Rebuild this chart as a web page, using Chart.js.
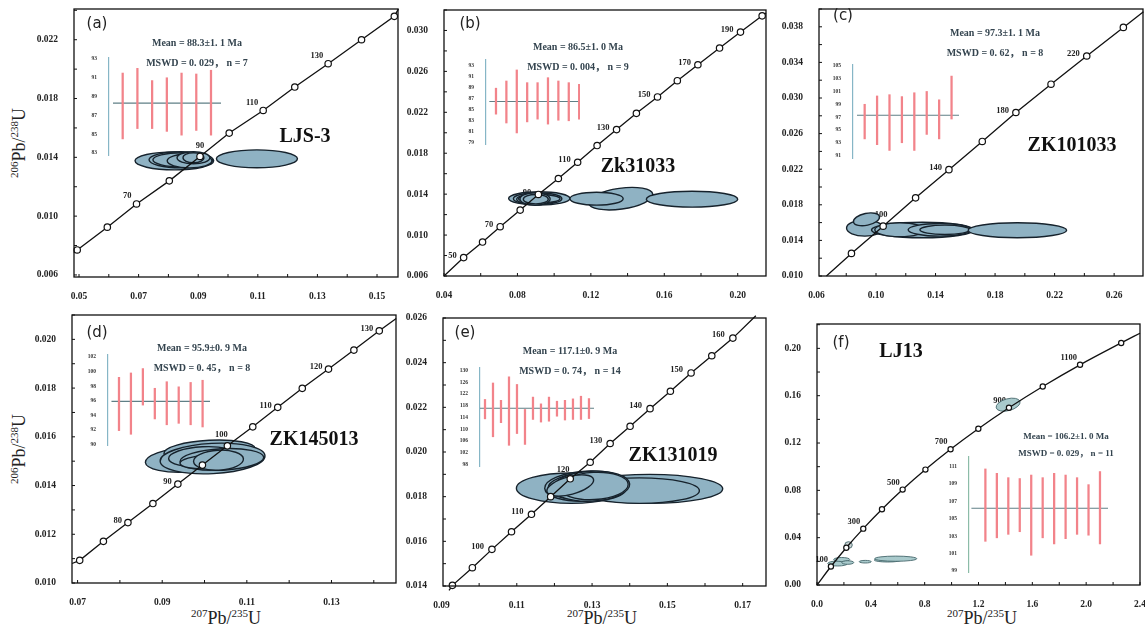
<!DOCTYPE html>
<html>
<head>
<meta charset="utf-8">
<script src="https://cdn.jsdelivr.net/npm/chart.js@4.4.1/dist/chart.umd.min.js"></script>
<style>
body{margin:0;background:#fff;width:1145px;height:632px;overflow:hidden;position:relative;font-family:"Liberation Serif",serif}
canvas{position:absolute}
.ttl{position:absolute;font-size:18px;color:#222;white-space:nowrap;line-height:1}
.ttl sup{font-size:11px}
.rot{transform:translate(-50%,-50%) rotate(-90deg)}
.hor{transform:translate(-50%,-50%)}
</style>
</head>
<body>
<div class="ttl rot" style="left:18px;top:143px"><sup>206</sup>Pb/<sup>238</sup>U</div>
<div class="ttl rot" style="left:18px;top:449px"><sup>206</sup>Pb/<sup>238</sup>U</div>
<div class="ttl hor" style="left:226px;top:617px"><sup>207</sup>Pb/<sup>235</sup>U</div>
<div class="ttl hor" style="left:602px;top:617px"><sup>207</sup>Pb/<sup>235</sup>U</div>
<div class="ttl hor" style="left:982px;top:617px"><sup>207</sup>Pb/<sup>235</sup>U</div>
<script>
// ---- (a) LJS-3 ----
const aAge=[50,60,70,80,90,100,110,120,130,140,150];
const aX=[0.0494,0.0595,0.0693,0.0803,0.0906,0.1004,0.1118,0.1224,0.1336,0.1448,0.1558];
const aY=[0.0077,0.00925,0.01083,0.0124,0.01406,0.01565,0.01719,0.01878,0.02037,0.0220,0.02359];
const aEnd=[[0.0483,0.0075],[0.1572,0.0241]];
const aTag=[70,90,110,130];
const aEx=[0.0820,0.0842,0.0844,0.0871,0.0884,0.0884,0.1097];
const aEy=[0.01376,0.01383,0.01383,0.01376,0.01397,0.01397,0.0139];
const aErx=[0.0132,0.0107,0.0096,0.0075,0.0055,0.0035,0.0136];
const aEry=[0.00061,0.00055,0.00048,0.00048,0.00041,0.00034,0.00061];
const aLo=[84.5,85.6,85.6,85.3,84.9,85.4,84.9];
const aHi=[91.5,92.0,90.7,91.0,91.5,91.4,91.8];
const aMean=88.3;
const aXT=[0.05,0.07,0.09,0.11,0.13,0.15];
const aYT=[0.006,0.010,0.014,0.018,0.022];
const aIT=[83,85,87,89,91,93];

// ---- (b) Zk31033 ----
const bAge=[50,60,70,80,90,100,110,120,130,140,150,160,170,180,190,200];
const bX=[0.0507,0.0610,0.0706,0.0815,0.0914,0.1023,0.1128,0.1234,0.1340,0.1448,0.1563,0.1671,0.1783,0.1901,0.2015,0.2133];
const bY=[0.0078,0.00932,0.01082,0.01244,0.01397,0.01553,0.01712,0.01875,0.02031,0.0219,0.0235,0.02509,0.02665,0.02828,0.02984,0.03143];
const bEnd=[[0.040,0.0060],[0.2154,0.0317]];
const bTag=[50,70,90,110,130,150,170,190];
const bEx=[0.0919,0.0910,0.0905,0.0919,0.0896,0.0900,0.1362,0.1231,0.1751];
const bEy=[0.01358,0.01356,0.01351,0.01356,0.01353,0.01351,0.01356,0.01356,0.01351];
const bErx=[0.0167,0.0132,0.0109,0.0113,0.0082,0.0068,0.0177,0.0145,0.0249];
const bEry=[0.00065,0.00057,0.00052,0.00041,0.00061,0.00046,0.00102,0.00063,0.00078];
const bEa=[0,0,0,0,0,0,-8,0,0];
const bLo=[84.2,82.6,80.8,82.8,83.3,82.4,83.1,83.0,83.3];
const bHi=[88.9,90.2,92.2,89.9,89.9,90.8,90.2,89.9,89.6];
const bMean=86.5;
const bXT=[0.04,0.08,0.12,0.16,0.20];
const bYT=[0.006,0.010,0.014,0.018,0.022,0.026,0.030];
const bIT=[79,81,83,85,87,89,91,93];

// ---- (c) ZK101033 ----
const cAge=[80,100,120,140,160,180,200,220,240];
const cX=[0.0835,0.1048,0.1266,0.1490,0.1714,0.1940,0.2176,0.2416,0.2662];
const cY=[0.01254,0.0156,0.01878,0.02195,0.02512,0.02837,0.03155,0.03472,0.03793];
const cEnd=[[0.0667,0.0100],[0.2797,0.0397]];
const cTag=[100,140,180,220];
const cEx=[0.0925,0.0936,0.1312,0.1160,0.1429,0.1463,0.1950];
const cEy=[0.01538,0.01637,0.01517,0.0152,0.01519,0.01519,0.01514];
const cErx=[0.0123,0.0089,0.0342,0.0168,0.0213,0.0168,0.0331];
const cEry=[0.0009,0.00067,0.00087,0.00078,0.00071,0.00053,0.00084];
const cEa=[0,-12,0,0,0,0,0];
const cLo=[93.6,92.7,91.8,93.0,91.8,94.3,93.6,96.7];
const cHi=[99.0,100.3,100.5,100.2,100.8,101.0,99.7,103.4];
const cMean=97.3;
const cXT=[0.06,0.10,0.14,0.18,0.22,0.26];
const cYT=[0.010,0.014,0.018,0.022,0.026,0.030,0.034,0.038];
const cIT=[91,93,95,97,99,101,103,105];

// ---- (d) ZK145013 ----
const dAge=[70,75,80,85,90,95,100,105,110,115,120,125,130];
const dX=[0.0705,0.0761,0.0819,0.0878,0.0937,0.0995,0.1054,0.1114,0.1173,0.1231,0.1293,0.1353,0.1413];
const dY=[0.01093,0.01171,0.01248,0.01326,0.01406,0.01484,0.01563,0.01641,0.01721,0.01799,0.01878,0.01956,0.02035];
const dEnd=[[0.0687,0.0108],[0.1453,0.02086]];
const dTag=[80,90,100,110,120,130];
const dEx=[0.0962,0.1012,0.1019,0.0996,0.1041,0.1009,0.1033];
const dEy=[0.01507,0.01542,0.01511,0.01518,0.01507,0.01497,0.01504];
const dErx=[0.0102,0.0108,0.0124,0.0081,0.0099,0.0067,0.0059];
const dEry=[0.00051,0.00044,0.00062,0.00041,0.00044,0.00028,0.00041];
const dEa=[-4,-3,-3,-3,-3,-3,-3];
const dLo=[91.9,91.4,95.4,93.5,92.7,92.9,92.7,92.4];
const dHi=[99.2,99.8,100.4,97.7,98.6,97.9,98.5,98.8];
const dMean=95.9;
const dXT=[0.07,0.09,0.11,0.13];
const dYT=[0.010,0.012,0.014,0.016,0.018,0.020];
const dIT=[90,92,94,96,98,100,102];

// ---- (e) ZK131019 ----
const eAge=[90,95,100,105,110,115,120,125,130,135,140,145,150,155,160];
const eX=[0.0929,0.0982,0.1034,0.1086,0.1139,0.1190,0.1242,0.1295,0.1348,0.1401,0.1454,0.1508,0.1563,0.1618,0.1674];
const eY=[0.01403,0.01482,0.01564,0.01643,0.01721,0.0180,0.0188,0.01954,0.02038,0.02115,0.02194,0.02272,0.02354,0.02431,0.0251];
const eEnd=[[0.0920,0.0138],[0.1735,0.0261]];
const eTag=[100,110,120,130,140,150,160];
const eEx=[0.1453,0.1426,0.1245,0.1285,0.1285,0.1298,0.1305,0.1242];
const eEy=[0.01835,0.01827,0.01838,0.01847,0.01847,0.01847,0.01848,0.0185];
const eErx=[0.0194,0.0159,0.0146,0.0111,0.0102,0.0102,0.0091,0.0064];
const eEry=[0.00065,0.00057,0.00068,0.00067,0.0006,0.00067,0.00061,0.0004];
const eEa=[0,0,0,-3,-3,-3,-3,-15];
const eLo=[113.5,107.4,112.2,104.5,108.5,104.8,113.3,112.4,112.7,114.4,113.1,113.3,113.3,113.6];
const eHi=[120.1,125.7,119.8,127.8,125.2,116.7,120.9,118.6,120.9,119.5,119.8,120.3,121.2,120.4];
const eMean=117.1;
const eXT=[0.09,0.11,0.13,0.15,0.17];
const eYT=[0.014,0.016,0.018,0.020,0.022,0.024,0.026];
const eIT=[98,102,106,110,114,118,122,126,130];

// ---- (f) LJ13 ----
const fAge=[100,200,300,400,500,600,700,800,900,1000,1100,1200];
const fX=[0.1035,0.2177,0.3437,0.4828,0.6363,0.8056,0.9925,1.1987,1.4263,1.6774,1.9545,2.2603];
const fY=[0.01563,0.03151,0.04764,0.06402,0.08065,0.09754,0.1147,0.1321,0.1498,0.1678,0.1861,0.2046];
const fEnd=[[0,0],[2.4,0.2128]];
const fTag=[100,300,500,700,900,1100];
const fEx=[0.2342,0.1539,0.1836,0.2283,0.3584,0.5257,0.5851,1.420];
const fEy=[0.0338,0.01817,0.02156,0.0190,0.0197,0.02113,0.02223,0.1524];
const fErx=[0.028,0.0743,0.0595,0.0446,0.0446,0.1004,0.156,0.0915];
const fEry=[0.0028,0.0021,0.0017,0.0015,0.0011,0.0017,0.0022,0.0050];
const fEa=[0,0,0,0,0,0,0,-15];
const fLo=[102.4,102.8,103.2,103.5,100.8,102.8,102.1,102.7,103.2,103.1,102.1];
const fHi=[110.7,110.2,109.7,109.6,110.0,109.7,110.2,110.0,109.7,108.9,110.4];
const fMean=106.2;
const fXT=[0,0.4,0.8,1.2,1.6,2.0,2.4];
const fYT=[0,0.04,0.08,0.12,0.16,0.20];
const fIT=[99,101,103,105,107,109,111];

const FS='"Liberation Serif","Noto Sans CJK SC",serif';
const FILL='#8fb2c3', EDGE='#16222c';

const panels=[
 {k:'(a)',box:[74,9,398,277],xr:[0.04832,0.15704],yr:[0.00586,0.02409],xd:2,yd:3,
  age:aAge,x:aX,y:aY,end:aEnd,tag:aTag,ex:aEx,ey:aEy,erx:aErx,ery:aEry,ea:null,xt:aXT,yt:aYT,
  name:'LJS-3',mean:'Mean = 88.3±1. 1 Ma',mswd:'MSWD = 0. 029， n = 7',
  pl:[23,15],pm:[123,34],pn:[231,128],to:[-5,-8],up:[90],uo:[0,-11],pr:3.2,
  ins:{box:[109,58.3,220.7,155],x:[0.07,7.68],ms:0.34,y:[82.79,93.1],t:aIT,lo:aLo,hi:aHi,m:aMean,ac:'#86b6c6'}},
 {k:'(b)',box:[444.3,10,766.7,276],xr:[0.04,0.2154],yr:[0.006,0.032],xd:2,yd:3,
  age:bAge,x:bX,y:bY,end:bEnd,tag:bTag,ex:bEx,ey:bEy,erx:bErx,ery:bEry,ea:bEa,xt:bXT,yt:bYT,
  name:'Zk31033',mean:'Mean = 86.5±1. 0 Ma',mswd:'MSWD = 0. 004， n = 9',
  pl:[26,14],pm:[134,37],pn:[194,157],to:[-7,-2],up:[],uo:[0,0],pr:3.2,
  ins:{box:[486,60,580,144],x:[0.04,9.08],ms:0.36,y:[78.8,94],t:bIT,lo:bLo,hi:bHi,m:bMean,ac:'#86b6c6'}},
 {k:'(c)',box:[819.3,9.3,1143,276],xr:[0.0617,0.2794],yr:[0.010,0.040],xd:2,yd:3,
  age:cAge,x:cX,y:cY,end:cEnd,tag:cTag,ex:cEx,ey:cEy,erx:cErx,ery:cEry,ea:cEa,xt:cXT,yt:cYT,
  name:'ZK101033',mean:'Mean = 97.3±1. 1 Ma',mswd:'MSWD = 0. 62， n = 8',
  pl:[24,7],pm:[176,24],pn:[253,137],to:[-7,-2],up:[100],uo:[-2,-11],pr:3.2,
  ins:{box:[853.3,65,959.3,158.3],x:[0.06,8.6],ms:0.38,y:[90.62,105.13],t:cIT,lo:cLo,hi:cHi,m:cMean,ac:'#86b6c6'}},
 {k:'(d)',box:[71.7,315,396,582.7],xr:[0.06868,0.14525],yr:[0.010,0.0210],xd:2,yd:3,
  age:dAge,x:dX,y:dY,end:dEnd,tag:dTag,ex:dEx,ey:dEy,erx:dErx,ery:dEry,ea:dEa,xt:dXT,yt:dYT,
  name:'ZK145013',mean:'Mean = 95.9±0. 9 Ma',mswd:'MSWD = 0. 45， n = 8',
  pl:[25,18],pm:[130,33],pn:[242,125],to:[-6,-2],up:[100],uo:[-6,-11],pr:3.2,
  ins:{box:[108.3,355,210,445],x:[0.08,8.62],ms:0.37,y:[89.93,102.26],t:dIT,lo:dLo,hi:dHi,m:dMean,ac:'#86b6c6'}},
 {k:'(e)',box:[443.3,318.3,766.7,586.7],xr:[0.0904,0.1762],yr:[0.014,0.026],xd:2,yd:3,
  age:eAge,x:eX,y:eY,end:eEnd,tag:eTag,ex:eEx,ey:eEy,erx:eErx,ery:eEry,ea:eEa,xt:eXT,yt:eYT,
  name:'ZK131019',mean:'Mean = 117.1±0. 9 Ma',mswd:'MSWD = 0. 74， n = 14',
  pl:[22,15],pm:[127,33],pn:[230,138],to:[-8,-3],up:[120],uo:[-7,-9],pr:3.2,
  ins:{box:[480,368.3,594,466.7],x:[0.375,14.63],ms:0.375,y:[97.46,130.8],t:eIT,lo:eLo,hi:eHi,m:eMean,ac:'#86b6c6'}},
 {k:'(f)',box:[817.3,324,1140,585],xr:[0,2.4],yr:[0,0.2206],xd:1,yd:2,
  age:fAge,x:fX,y:fY,end:fEnd,tag:fTag,ex:fEx,ey:fEy,erx:fErx,ery:fEry,ea:fEa,xt:fXT,yt:fYT,
  name:'LJ13',mean:'Mean = 106.2±1. 0 Ma',mswd:'MSWD = 0. 029， n = 11',
  pl:[24,19],pm:[249,113],pn:[84,28],to:[-3,-7],up:[],uo:[0,0],pr:2.6,smooth:true,
  fill:'#a9cacc',edge:'#46686c',elw:0.9,mf:9,
  ins:{box:[969.3,456.7,1108.3,571.7],x:[-0.43,11.7],ms:-0.22,y:[98.88,112.07],t:fIT,lo:fLo,hi:fHi,m:fMean,ac:'#8cbca8'}}
];

function withMinor(list,min,max){
  const out=[];const st=list[1]-list[0];
  if(list[0]-st/2>=min-1e-12) out.push(+(list[0]-st/2).toFixed(6));
  list.forEach((v,i)=>{out.push(v); const nx=+(v+st/2).toFixed(6); if(i<list.length-1||nx<=max+1e-12) out.push(nx);});
  return out;
}
const isLab=(list,v)=>list.some(t=>Math.abs(t-v)<1e-9);
const noPad=s=>{s.paddingTop=0;s.paddingBottom=0;s.paddingLeft=0;s.paddingRight=0;};

function deco(p){
  return {id:'deco',
    beforeDatasetsDraw(ch){
      const {ctx,chartArea:a,scales:{x,y}}=ch;
      ctx.save();
      ctx.font='bold 8.5px '+FS; ctx.fillStyle='#222'; ctx.textBaseline='middle';
      p.tag.forEach(ag=>{
        const i=p.age.indexOf(ag), px=x.getPixelForValue(p.x[i]), py=y.getPixelForValue(p.y[i]);
        if(p.up.includes(ag)){ctx.textAlign='center';ctx.fillText(String(ag),px+p.uo[0],py+p.uo[1]);}
        else{ctx.textAlign='right';ctx.fillText(String(ag),px+p.to[0],py+p.to[1]);}
      });
      ctx.beginPath(); ctx.rect(a.left,a.top,a.width,a.height); ctx.clip();
      p.ex.forEach((cx,i)=>{
        const px=x.getPixelForValue(cx), py=y.getPixelForValue(p.ey[i]);
        const rx=Math.abs(x.getPixelForValue(cx+p.erx[i])-px), ry=Math.abs(y.getPixelForValue(p.ey[i]+p.ery[i])-py);
        ctx.beginPath(); ctx.ellipse(px,py,rx,ry,(p.ea?p.ea[i]:0)*Math.PI/180,0,Math.PI*2);
        ctx.fillStyle=(p.k==='(f)'&&i===0)?'#c9d2d3':(p.fill||FILL); ctx.fill();
        ctx.strokeStyle=p.edge||EDGE; ctx.lineWidth=p.elw||1.4; ctx.stroke();
      });
      ctx.restore();
    },
    afterDatasetsDraw(ch){
      const {ctx,chartArea:a,scales:{x,y}}=ch;
      ctx.save();
      ctx.strokeStyle='#111'; ctx.lineWidth=1;
      ctx.beginPath();
      x.ticks.forEach(tk=>{const px=x.getPixelForValue(tk.value); if(px<a.left-0.5||px>a.right+0.5)return; ctx.moveTo(px,a.bottom);ctx.lineTo(px,a.bottom-3);});
      y.ticks.forEach(tk=>{const py=y.getPixelForValue(tk.value); if(py<a.top-0.5||py>a.bottom+0.5)return; ctx.moveTo(a.left,py);ctx.lineTo(a.left+3,py);});
      ctx.stroke();
      ctx.lineWidth=1.3; ctx.strokeRect(a.left,a.top,a.width,a.height);
      ctx.textBaseline='middle';
      ctx.font='15px "DejaVu Sans"'; ctx.fillStyle='#222'; ctx.textAlign='center';
      ctx.fillText(p.k,a.left+p.pl[0],a.top+p.pl[1]);
      ctx.font='bold '+(p.mf||10)+'px '+FS; ctx.fillStyle='#34444f';
      ctx.fillText(p.mean,a.left+p.pm[0],a.top+p.pm[1]);
      ctx.fillText(p.mswd,a.left+p.pm[0],a.top+p.pm[1]+(p.mf?16.6:20.5));
      ctx.font='bold 20px '+FS; ctx.fillStyle='#111';
      ctx.fillText(p.name,a.left+p.pn[0],a.top+p.pn[1]);
      ctx.restore();
    }};
}

function mainChart(p){
  const [l,t,r,b]=p.box, W=r-l, H=b-t, PL=46, PT=6, PR=6, PB=24;
  const cv=document.createElement('canvas');
  cv.width=Math.round(W+PL+PR); cv.height=Math.round(H+PT+PB);
  cv.style.left=(l-PL)+'px'; cv.style.top=(t-PT)+'px';
  document.body.appendChild(cv);
  const pts=[{x:p.end[0][0],y:p.end[0][1]}].concat(p.x.map((v,i)=>({x:v,y:p.y[i]})),[{x:p.end[1][0],y:p.end[1][1]}]);
  const n=pts.length;
  const tickFont={family:FS,size:9.5,weight:'bold'};
  new Chart(cv,{type:'scatter',
    data:{datasets:[{data:pts,showLine:true,borderColor:'#111',borderWidth:1.3,
      cubicInterpolationMode:p.smooth?'monotone':'default',
      pointRadius:c=>(c.dataIndex===0||c.dataIndex===n-1)?0:p.pr,pointHoverRadius:0,
      pointBackgroundColor:'#fff',pointBorderColor:'#111',pointBorderWidth:1.2,clip:6}]},
    options:{responsive:false,animation:false,events:[],
      layout:{padding:{top:PT,right:PR,left:0,bottom:0}},
      plugins:{legend:{display:false},tooltip:{enabled:false}},
      scales:{
        x:{type:'linear',min:p.xr[0],max:p.xr[1],grid:{display:false},border:{display:false},
          afterFit:s=>{s.height=PB;noPad(s);},
          afterBuildTicks:s=>{s.ticks=withMinor(p.xt,p.xr[0],p.xr[1]).map(v=>({value:v}));},
          ticks:{autoSkip:false,maxRotation:0,padding:6,color:'#222',font:tickFont,
            callback:v=>isLab(p.xt,v)?v.toFixed(p.xd):''}},
        y:{type:'linear',min:p.yr[0],max:p.yr[1],grid:{display:false},border:{display:false},
          afterFit:s=>{s.width=PL;noPad(s);},
          afterBuildTicks:s=>{s.ticks=withMinor(p.yt,p.yr[0],p.yr[1]).map(v=>({value:v}));},
          ticks:{autoSkip:false,padding:8,color:'#222',font:tickFont,
            callback:v=>isLab(p.yt,v)?v.toFixed(p.yd):''}}
      }},
    plugins:[deco(p)]
  });
}

function insetChart(s){
  const [l,t,r,b]=s.box, PL=24, PT=3, PR=3, PB=3;
  const cv=document.createElement('canvas');
  cv.width=Math.round(r-l+PL+PR); cv.height=Math.round(b-t+PT+PB);
  cv.style.left=(l-PL)+'px'; cv.style.top=(t-PT)+'px';
  document.body.appendChild(cv);
  new Chart(cv,{type:'bar',
    data:{datasets:[
      {type:'bar',data:s.lo.map((v,i)=>({x:i+1,y:[v,s.hi[i]]})),backgroundColor:'#f2838a',barThickness:1.6,borderWidth:0},
      {type:'line',data:[{x:s.ms,y:s.m},{x:s.x[1],y:s.m}],borderColor:'#5f7f86',borderWidth:1.1,pointRadius:0}
    ]},
    options:{responsive:false,animation:false,events:[],
      layout:{padding:{top:PT,right:PR,bottom:PB,left:0}},
      plugins:{legend:{display:false},tooltip:{enabled:false}},
      scales:{
        x:{type:'linear',min:s.x[0],max:s.x[1],display:false,offset:false},
        y:{type:'linear',min:s.y[0],max:s.y[1],afterFit:a=>{a.width=PL;noPad(a);},
          afterBuildTicks:a=>{a.ticks=s.t.map(v=>({value:v}));},
          grid:{display:false},border:{display:true,color:s.ac,width:1.2},
          ticks:{autoSkip:false,padding:4,color:'#333',font:{family:FS,size:5.5,weight:'bold'}}}
      }}
  });
}

panels.forEach(p=>{mainChart(p);insetChart(p.ins);});
</script>
</body>
</html>
